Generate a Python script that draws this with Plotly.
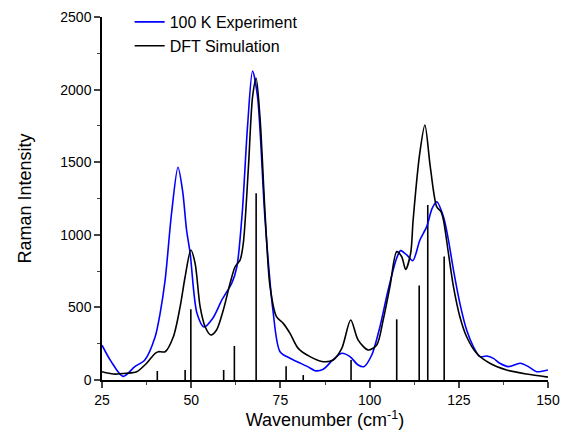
import plotly.graph_objects as go

# Experimental spectrum (100 K)
exp_x = [25, 27.5, 30.9, 34.2, 37, 39.9, 41.3, 42.7, 44.5, 46.3, 47.6, 48.7, 49.7, 51.6, 53.6, 56.1,
         58.6, 61.4, 62.8, 64.3, 65.8, 67.2, 68.6, 70.7, 72.9, 74.9, 77.7, 80.5, 83.3, 84.7, 87,
         89.7, 92.2, 94.5, 96.8, 98.4, 100.6, 102.9, 105.2, 107.6, 108.7, 110.4, 112.1, 114.1,
         116, 117.5, 118.8, 120.7, 122.1, 123.5, 125.3, 127.2, 129.1, 130.9, 132.8, 134.7,
         136.5, 138.9, 142.2, 144.5, 146.8, 150]
exp_y = [240, 130, 25, 92, 138, 298, 461, 689, 1150, 1465, 1300, 1033, 874, 461, 365, 427,
         551, 668, 780, 1150, 1750, 2128, 1950, 1102, 482, 195, 150, 117, 83, 64, 74,
         138, 184, 161, 103, 92, 172, 367, 620, 840, 891, 861, 822, 964,
         1056, 1180, 1228, 1125, 964, 758, 528, 344, 229, 161, 165, 149,
         115, 92, 115, 92, 57, 69]

# DFT simulated spectrum
dft_x = [25, 28.2, 31.9, 34.7, 37.5, 39.9, 40.8, 42.7, 45, 46.9, 48.3, 49.9, 51.1, 52.5, 53.9,
         55.5, 57.1, 59, 60.9, 62.3, 63.7, 64.6, 66, 67.2, 68.2, 69.3, 70.7, 72.1, 73.9, 75.8,
         77.7, 80, 83.3, 87, 89.8, 92.2, 94.7, 96.8, 99.6, 102, 103.8, 105.7, 107.6, 109,
         110.1, 111.5, 112.2, 114, 115.5, 117, 118.8, 120, 120.7, 122.1, 123.5, 125.3, 127.2,
         130, 133.7, 138.4, 144, 150]
dft_y = [57, 41, 46, 57, 115, 184, 195, 195, 298, 505, 711, 895, 803, 505, 367,
         310, 344, 482, 666, 780, 826, 941, 1450, 1950, 2078, 1800, 1148, 643, 436, 390,
         321, 218, 161, 126, 138, 218, 413, 275, 207, 241, 413, 643, 884, 849,
         762, 872, 1102, 1550, 1756, 1469, 1194, 1160, 1102, 872, 643, 436, 298,
         184, 115, 69, 41, 20]

# DFT mode positions and intensities (sticks)
stick_x = [40.5, 48.3, 49.9, 59.1, 62.1, 68.2, 76.6, 81.4, 94.8, 107.6, 113.9, 116.3, 120.9]
stick_y = [62, 69, 487, 69, 234, 1286, 94, 34, 138, 418, 650, 1205, 850]

sx, sy = [], []
for x, y in zip(stick_x, stick_y):
    sx += [x, x, None]
    sy += [0, y, None]

fig = go.Figure()
fig.add_trace(go.Scatter(x=sx, y=sy, mode="lines", line=dict(color="black", width=1.6),
                         showlegend=False, hoverinfo="skip"))
fig.add_trace(go.Scatter(x=exp_x, y=exp_y, mode="lines", name="100 K Experiment",
                         line=dict(color="#0000ff", width=1.6, shape="spline", smoothing=0.8)))
fig.add_trace(go.Scatter(x=dft_x, y=dft_y, mode="lines", name="DFT Simulation",
                         line=dict(color="black", width=1.6, shape="spline", smoothing=0.8)))

font_family = "Liberation Sans, Arial, sans-serif"
fig.update_layout(
    width=564, height=440,
    margin=dict(l=102, r=16, t=17, b=60, autoexpand=False),
    paper_bgcolor="white", plot_bgcolor="white",
    font=dict(family=font_family, color="black", size=14),
    showlegend=True,
    legend=dict(x=0.062, y=1.033, xanchor="left", yanchor="top", bgcolor="rgba(0,0,0,0)",
                font=dict(size=16), traceorder="normal"),
    xaxis=dict(range=[25, 150], showgrid=False, zeroline=False, showline=True, automargin=False,
               linecolor="black", linewidth=1.5, ticks="outside", ticklen=6, tickwidth=1.5,
               tickvals=[25, 50, 75, 100, 125, 150], tickfont=dict(size=14),
               minor=dict(ticks="outside", ticklen=3, tickwidth=1.2, tickvals=[37.5, 62.5, 87.5, 112.5, 137.5]),
               title=dict(text="Wavenumber (cm<sup>-1</sup>)", font=dict(size=18), standoff=4)),
    yaxis=dict(range=[0, 2500], showgrid=False, zeroline=False, showline=True, automargin=False,
               linecolor="black", linewidth=1.5, ticks="outside", ticklen=6, tickwidth=1.5,
               tickvals=[0, 500, 1000, 1500, 2000, 2500], tickfont=dict(size=14),
               minor=dict(ticks="outside", ticklen=3, tickwidth=1.2, tickvals=[250, 750, 1250, 1750, 2250]),
               title=dict(text="Raman Intensity", font=dict(size=18), standoff=24)),
)

fig.write_html("out.html")
